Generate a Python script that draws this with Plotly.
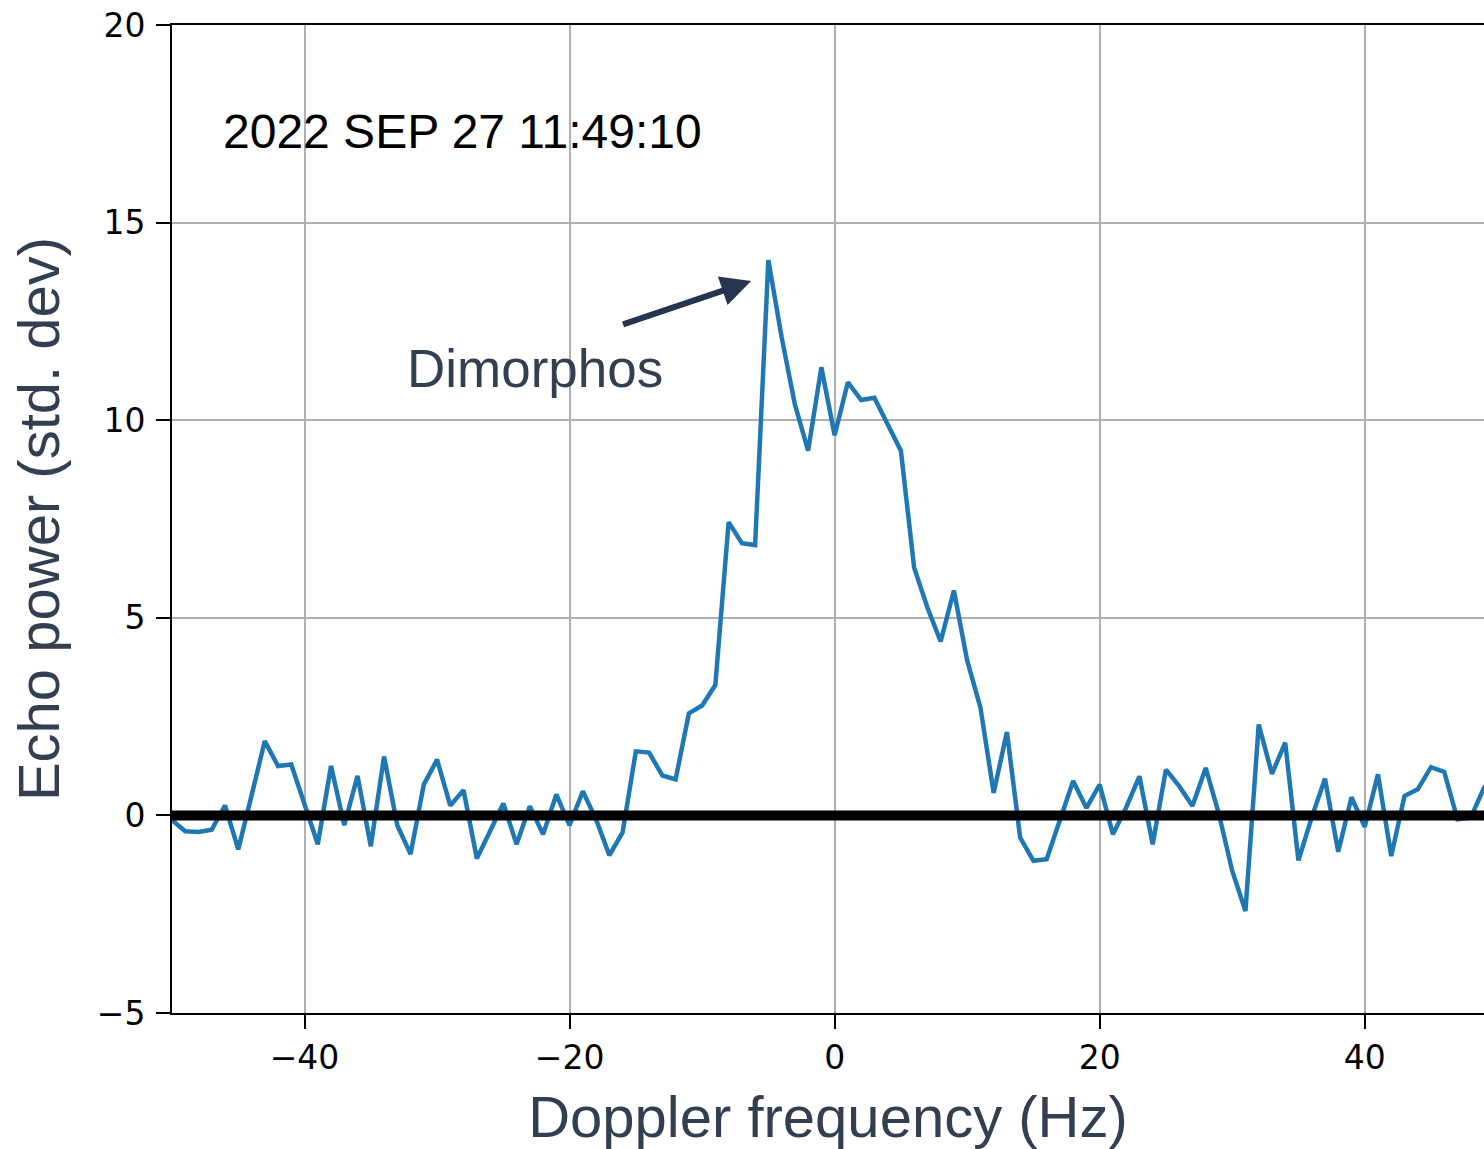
import plotly.graph_objects as go

# Doppler frequency (Hz)
freq_hz = [-50, -49, -48, -47, -46, -45, -44, -43, -42, -41,
           -40, -39, -38, -37, -36, -35, -34, -33, -32, -31,
           -30, -29, -28, -27, -26, -25, -24, -23, -22, -21,
           -20, -19, -18, -17, -16, -15, -14, -13, -12, -11,
           -10, -9, -8, -7, -6, -5, -4, -3, -2, -1,
           0, 1, 2, 3, 4, 5, 6, 7, 8, 9,
           10, 11, 12, 13, 14, 15, 16, 17, 18, 19,
           20, 21, 22, 23, 24, 25, 26, 27, 28, 29,
           30, 31, 32, 33, 34, 35, 36, 37, 38, 39,
           40, 41, 42, 43, 44, 45, 46, 47, 48, 49, 50]

# Echo power (std. dev)
echo_power = [-0.12, -0.40, -0.42, -0.36, 0.25, -0.86, 0.50, 1.88, 1.25, 1.29,
              0.28, -0.73, 1.25, -0.25, 1.00, -0.78, 1.49, -0.25, -0.98, 0.78,
              1.41, 0.25, 0.64, -1.09, -0.40, 0.30, -0.73, 0.23, -0.48, 0.53,
              -0.25, 0.61, -0.10, -1.01, -0.43, 1.62, 1.59, 1.01, 0.91, 2.58,
              2.78, 3.30, 7.42, 6.89, 6.84, 14.05, 12.1, 10.4, 9.23, 11.34,
              9.62, 10.96, 10.51, 10.57, 9.90, 9.23, 6.27, 5.26, 4.40, 5.69,
              3.92, 2.73, 0.57, 2.11, -0.56, -1.15, -1.11, -0.10, 0.87, 0.19,
              0.78, -0.48, 0.20, 0.99, -0.73, 1.16, 0.74, 0.24, 1.20, 0.03,
              -1.40, -2.42, 2.30, 1.05, 1.84, -1.14, -0.05, 0.93, -0.92, 0.46,
              -0.29, 1.04, -1.03, 0.49, 0.66, 1.22, 1.10, -0.10, -0.06, 0.70, 1.10]

x_ticks = [-40, -20, 0, 20, 40]
y_ticks = [-5, 0, 5, 10, 15, 20]

timestamp_label = "2022 SEP 27 11:49:10"
target_label = "Dimorphos"
x_title = "Doppler frequency (Hz)"
y_title = "Echo power (std. dev)"

SLATE = "#323f50"
TICK_FONT = dict(family="DejaVu Sans", size=33, color="black")

fig = go.Figure()
fig.add_trace(go.Scatter(
    x=freq_hz, y=echo_power, mode="lines",
    line=dict(color="#1f77b4", width=4.5),
    showlegend=False, hoverinfo="x+y",
))

# thick zero reference line
fig.add_hline(y=0, line=dict(color="black", width=10), layer="above")

fig.update_layout(
    width=1484, height=1149,
    margin=dict(l=172, r=0, t=25, b=136),
    paper_bgcolor="white", plot_bgcolor="white",
    showlegend=False,
    xaxis=dict(
        range=[-50, 49], tickvals=x_ticks, ticks="outside", ticklen=14,
        tickwidth=2, tickcolor="black", tickfont=TICK_FONT,
        showgrid=True, gridcolor="#b0b0b0", gridwidth=2,
        showline=True, linecolor="black", linewidth=2, mirror=True,
        zeroline=False,
        title=dict(text=x_title, font=dict(family="Liberation Sans", size=58, color=SLATE), standoff=21),
    ),
    yaxis=dict(
        range=[-5, 20], tickvals=y_ticks, ticks="outside", ticklen=14,
        tickwidth=2, tickcolor="black", tickfont=TICK_FONT, ticklabelstandoff=4,
        showgrid=True, gridcolor="#b0b0b0", gridwidth=2,
        showline=True, linecolor="black", linewidth=2, mirror=False,
        zeroline=False,
        title=dict(text=y_title, font=dict(family="Liberation Sans", size=58, color=SLATE), standoff=18),
    ),
)

fig.add_annotation(
    x=-46.3, y=17.3, xref="x", yref="y", text=timestamp_label,
    showarrow=False, xanchor="left", yanchor="middle",
    font=dict(family="Liberation Sans", size=48, color="black"),
)
fig.add_annotation(
    x=-22.6, y=11.3, xref="x", yref="y", text=target_label,
    showarrow=False, xanchor="center", yanchor="middle",
    font=dict(family="Liberation Sans", size=53, color=SLATE),
)
fig.add_annotation(
    x=-6.3, y=13.52, xref="x", yref="y", text="",
    ax=-16.08, ay=12.41, axref="x", ayref="y",
    showarrow=True, arrowhead=2, arrowsize=1, arrowwidth=6, arrowcolor="#263450",
)

fig.write_html("out.html")
